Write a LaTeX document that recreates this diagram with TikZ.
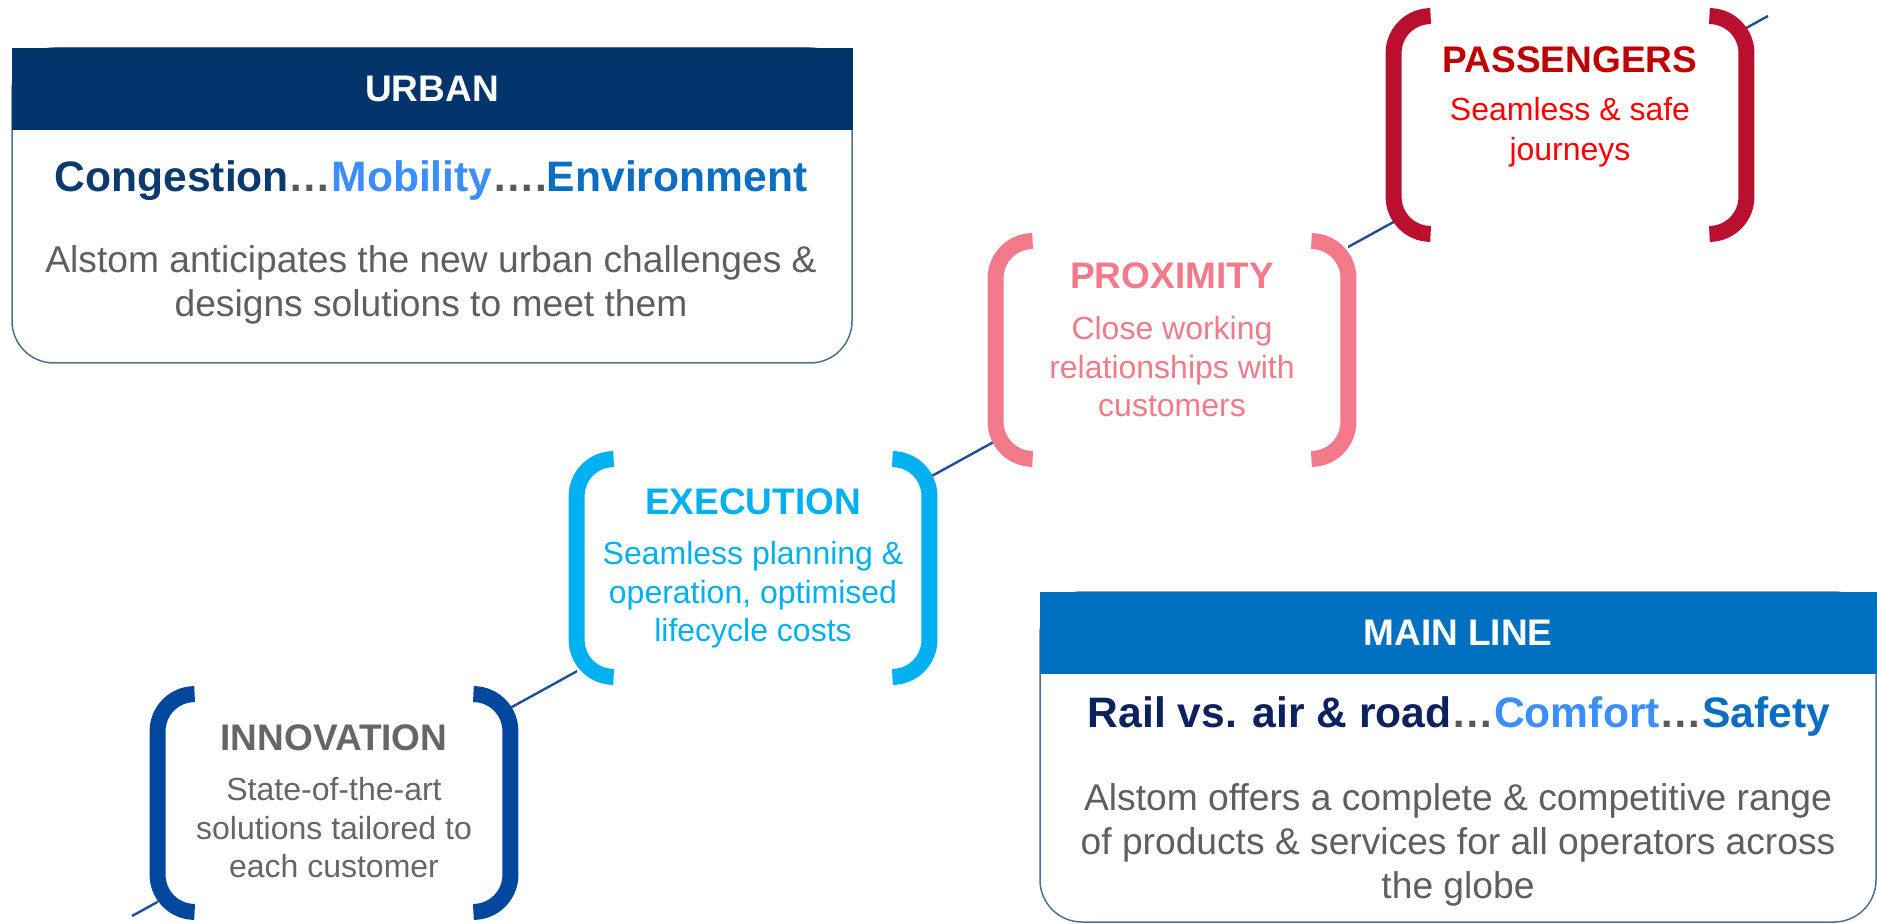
\documentclass[tikz,border=0pt]{standalone}
\usepackage{fontspec}
\setmainfont{Liberation Sans}
\usetikzlibrary{positioning}
\definecolor{urbanblue}{HTML}{04346C}
\definecolor{mainblue}{HTML}{0070C0}
\definecolor{navytext}{HTML}{0B3A6E}
\definecolor{darknavy}{HTML}{0C215E}
\definecolor{lightblue}{HTML}{3A8EFF}
\definecolor{midblue}{HTML}{0A6EC2}
\definecolor{greytext}{HTML}{5F5F5F}
\definecolor{dotgrey}{HTML}{595959}
\definecolor{edgegrey}{HTML}{4C7290}
\definecolor{railblue}{HTML}{1F4E9A}
\definecolor{passred}{HTML}{B8102E}
\definecolor{passtitle}{HTML}{C00000}
\definecolor{passtext}{HTML}{FF0000}
\definecolor{proxpink}{HTML}{F37A8A}
\definecolor{execcyan}{HTML}{00B0F0}
\definecolor{innoblue}{HTML}{00479D}
\definecolor{innogrey}{HTML}{666666}

\begin{document}
\begin{tikzpicture}[x=0.5pt,y=-0.5pt,
panel/.style ={draw=edgegrey ,line width=0.75pt ,fill=white ,rounded corners=21pt ,inner sep=0pt},
panelhead/.style ={inner sep=0pt ,text=white ,font=\bfseries\fontsize{18.5}{22}\selectfont},
headline/.style ={inner sep=0pt ,anchor=base ,font=\bfseries\fontsize{21.3}{25}\selectfont},
panelbody/.style ={inner sep=0pt ,anchor=north ,align=center ,text=greytext ,font=\fontsize{18.6}{22}\selectfont},
frame/.style ={fill=white ,inner sep=0pt ,minimum width=176pt ,minimum height=108.5pt},
brk/.style ={line width=8pt ,rounded corners=18.5pt},
ttl/.style ={inner sep=0pt ,font=\bfseries\fontsize{18.5}{22}\selectfont},
txt/.style ={inner sep=0pt ,anchor=north ,align=center ,font=\fontsize{16}{19.3}\selectfont}]
\useasboundingbox (0,0) rectangle (1877,924);

\coordinate (railA) at (132,916);
\coordinate (railB) at (1768,16);
\draw[railblue ,line width=1.2pt] (railA) -- (railB);

\node[panel ,minimum width=420pt ,minimum height=157.5pt] (urban) at (432,205.5) {};
\node[panelhead ,fill=urbanblue ,minimum width=420.5pt ,minimum height=41pt] (urbanH) at (432,89) {URBAN};
\node[headline] (urbanL) at (431,192) {\textcolor{navytext}{Congestion}\textcolor{dotgrey}{…}\textcolor{lightblue}{Mobility}\textcolor{dotgrey}{….}\textcolor{midblue}{Environment}};
\node[panelbody] (urbanB) at (431,245) {Alstom anticipates the new urban challenges \&\\designs solutions to meet them};

\node[panel ,minimum width=418pt ,minimum height=165pt] (main) at (1458,757) {};
\node[panelhead ,fill=mainblue ,minimum width=418.5pt ,minimum height=41pt] (mainH) at (1458,633) {MAIN LINE};
\node[headline] (mainL) at (1459,727) {\textcolor{darknavy}{Rail vs. air \& road}\textcolor{dotgrey}{…}\textcolor{lightblue}{Comfort}\textcolor{dotgrey}{…}\textcolor{midblue}{Safety}};
\node[panelbody] (mainB) at (1458,783) {Alstom offers a complete \& competitive range\\of products \& services for all operators across\\the globe};

\node[frame] (inno) at (334,803) {};
\node[frame] (exec) at (753,568) {};
\node[frame] (prox) at (1172,350) {};
\node[frame] (pass) at (1570,125) {};

\draw[brk ,innoblue] ([xshift=18.5pt]inno.north west) -- (inno.north west) -- (inno.south west) -- ([xshift=18.5pt]inno.south west);
\draw[brk ,innoblue] ([xshift=-18.5pt]inno.north east) -- (inno.north east) -- (inno.south east) -- ([xshift=-18.5pt]inno.south east);
\draw[brk ,execcyan] ([xshift=18.5pt]exec.north west) -- (exec.north west) -- (exec.south west) -- ([xshift=18.5pt]exec.south west);
\draw[brk ,execcyan] ([xshift=-18.5pt]exec.north east) -- (exec.north east) -- (exec.south east) -- ([xshift=-18.5pt]exec.south east);
\draw[brk ,proxpink] ([xshift=18.5pt]prox.north west) -- (prox.north west) -- (prox.south west) -- ([xshift=18.5pt]prox.south west);
\draw[brk ,proxpink] ([xshift=-18.5pt]prox.north east) -- (prox.north east) -- (prox.south east) -- ([xshift=-18.5pt]prox.south east);
\draw[brk ,passred] ([xshift=18.5pt]pass.north west) -- (pass.north west) -- (pass.south west) -- ([xshift=18.5pt]pass.south west);
\draw[brk ,passred] ([xshift=-18.5pt]pass.north east) -- (pass.north east) -- (pass.south east) -- ([xshift=-18.5pt]pass.south east);

\node[ttl ,text=innogrey] (innoT) at (334,738) {INNOVATION};
\node[txt ,text=innogrey] (innoB) at (334,777) {State-of-the-art\\solutions tailored to\\each customer};
\node[ttl ,text=execcyan] (execT) at (753,502) {EXECUTION};
\node[txt ,text=execcyan] (execB) at (753,541) {Seamless planning \&\\operation, optimised\\lifecycle costs};
\node[ttl ,text=proxpink] (proxT) at (1172,276) {PROXIMITY};
\node[txt ,text=proxpink] (proxB) at (1172,316) {Close working\\relationships with\\customers};
\node[ttl ,text=passtitle] (passT) at (1570,60) {PASSENGERS};
\node[txt ,text=passtext ,font=\fontsize{16}{20}\selectfont] (passB) at (1570,97) {Seamless \& safe\\journeys};
\end{tikzpicture}
\end{document}
